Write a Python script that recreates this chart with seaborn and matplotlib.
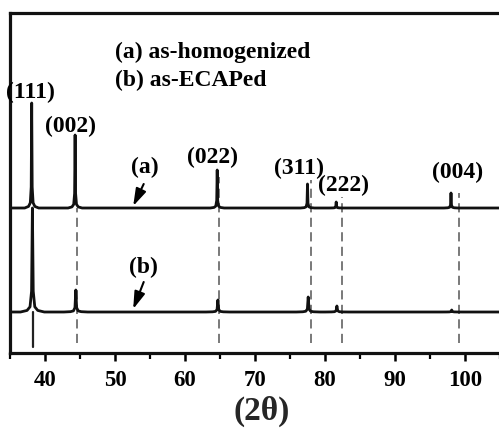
import numpy as np
import matplotlib
matplotlib.use("Agg")
import matplotlib.pyplot as plt
import seaborn as sns

# --- diffraction peaks (2theta in degrees, peak height above the trace baseline) ---
hkl_labels = ["(111)", "(002)", "(022)", "(311)", "(222)", "(004)"]

peak_pos_a = [38.1, 44.3, 64.6, 77.5, 81.6, 98.0]
peak_height_a = [105, 73, 38, 24, 6, 15]
baseline_a = 145

peak_pos_b = [38.2, 44.4, 64.7, 77.6, 81.7, 98.1]
peak_height_b = [104, 22, 12, 15, 6, 2]
baseline_b = 41

# reference lines (standard positions)
ref_pos = [38.35, 44.55, 64.85, 77.95, 82.45, 99.2]
ref_top = [41, 145, 176, 173, 156, 160]
ref_bottom = [6, 10, 10, 10, 10, 10]

xticks_major = [40, 50, 60, 70, 80, 90, 100]
xticks_minor = [35, 45, 55, 65, 75, 85, 95, 105]

# label placement for each reflection (x in 2theta, y in plot units)
hkl_x = [37.9, 43.7, 63.9, 76.3, 82.7, 98.9]
hkl_y = [261, 227, 196, 185, 168, 181]

legend_lines = ["(a) as-homogenized", "(b) as-ECAPed"]

# peak outline template: offsets in degrees and fraction of peak height
shape_dx = [-1.0, -0.45, -0.2, -0.07, 0.0, 0.07, 0.2, 0.45, 1.0]
shape_fr = [0.0, 0.015, 0.05, 0.2, 1.0, 0.2, 0.05, 0.015, 0.0]


def trace(positions, heights, base, widen):
    xs, ys = [35.0], [base]
    for p, h in zip(positions, heights):
        for dx, fr in zip(shape_dx, shape_fr):
            xs.append(p + dx * widen)
            ys.append(base + fr * h)
    xs.append(106.0)
    ys.append(base)
    return np.array(xs), np.array(ys)


sns.set_theme(style="ticks")
plt.rcParams["font.family"] = ["Liberation Serif", "DejaVu Serif"]
plt.rcParams["font.weight"] = "bold"
plt.rcParams["text.color"] = "black"
plt.rcParams["xtick.color"] = "black"
plt.rcParams["xtick.labelcolor"] = "black"

LABEL_SIZE = 17

fig = plt.figure(figsize=(4.99, 4.28), dpi=100)
ax = fig.add_axes([10 / 499, 75 / 428, 497 / 499, 340 / 428])

xa, ya = trace(peak_pos_a, peak_height_a, baseline_a, 1.0)
xb, yb = trace(peak_pos_b, peak_height_b, baseline_b, 1.7)

# reference markers: first solid, the rest dashed
for i, (p, t, b) in enumerate(zip(ref_pos, ref_top, ref_bottom)):
    if i == 0:
        ax.plot([p, p], [b, t], color="#222222", lw=1.6, zorder=1)
    else:
        ax.plot([p, p], [b, t], color="#555555", lw=1.1,
                linestyle=(0, (6, 3.5)), zorder=1)

sns.lineplot(x=xa, y=ya, sort=False, estimator=None, ax=ax,
             color="#111111", lw=2.0, zorder=3)
sns.lineplot(x=xb, y=yb, sort=False, estimator=None, ax=ax,
             color="#111111", lw=2.0, zorder=3)

ax.set_xlim(35, 106)
ax.set_ylim(0, 340)

for lab, x, y in zip(hkl_labels, hkl_x, hkl_y):
    ax.text(x, y, lab, ha="center", va="center", fontsize=LABEL_SIZE,
            fontweight="bold", zorder=4)

ax.text(50.0, 301, legend_lines[0], ha="left", va="center",
        fontsize=LABEL_SIZE, fontweight="bold")
ax.text(50.0, 273, legend_lines[1], ha="left", va="center",
        fontsize=LABEL_SIZE, fontweight="bold")

# trace identifiers with arrows
ax.text(54.3, 186, "(a)", ha="center", va="center", fontsize=LABEL_SIZE,
        fontweight="bold")
ax.text(54.1, 86, "(b)", ha="center", va="center", fontsize=LABEL_SIZE,
        fontweight="bold")
arrow_kw = dict(arrowstyle="-|>,head_length=0.8,head_width=0.25",
                lw=1.5, color="black", mutation_scale=13,
                shrinkA=0, shrinkB=0)
ax.annotate("", xy=(52.6, 147), xytext=(54.1, 169), arrowprops=arrow_kw)
ax.annotate("", xy=(52.6, 44), xytext=(54.1, 71), arrowprops=arrow_kw)

# axes styling
for side in ["left", "top", "bottom", "right"]:
    ax.spines[side].set_linewidth(2.3)
    ax.spines[side].set_color("#111111")
ax.set_yticks([])
ax.set_xticks(xticks_major)
ax.set_xticks(xticks_minor, minor=True)
ax.set_xticklabels([str(v) for v in xticks_major])
ax.tick_params(axis="x", which="major", direction="out", length=5.5,
               width=1.8, labelsize=16.5, pad=7, colors="black")
ax.tick_params(axis="x", which="minor", direction="out", length=4,
               width=1.6, colors="black")
for t in ax.get_xticklabels():
    t.set_fontweight("bold")

ax.set_xlabel("(2θ)", fontsize=24, fontweight="bold")
ax.xaxis.set_label_coords((262 - 10) / 497, -(411 - 353) / 340)
ax.xaxis.label.set_va("center")
ax.set_ylabel("")

fig.savefig("out.png", dpi=100)
